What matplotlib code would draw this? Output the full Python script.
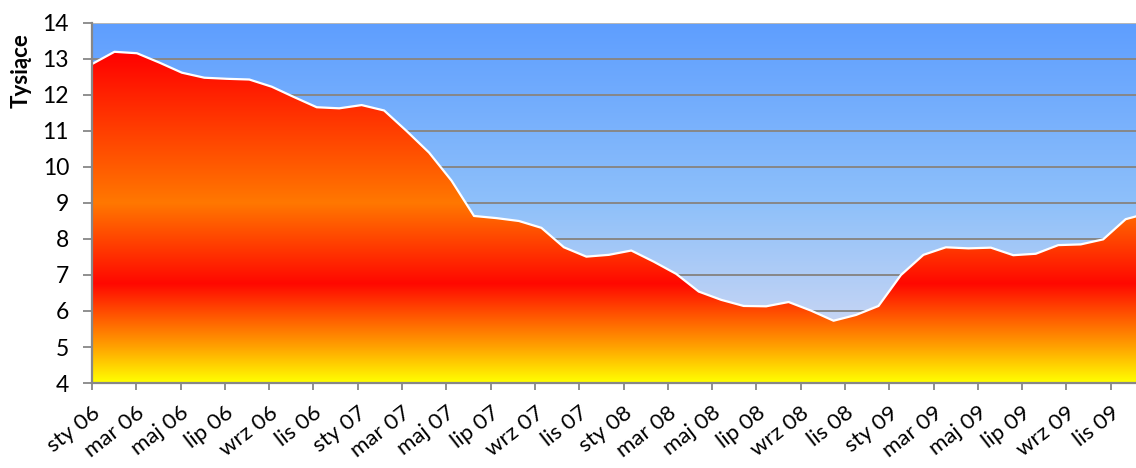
import numpy as np
import matplotlib
matplotlib.use("Agg")
import matplotlib.pyplot as plt
from matplotlib.colors import LinearSegmentedColormap

plt.rcParams['font.family'] = ['Lato', 'DejaVu Sans']

# ---- data (thousands), monthly Jan 2006 .. Dec 2009 ----
month_labels = ["sty 06", "mar 06", "maj 06", "lip 06", "wrz 06", "lis 06",
                "sty 07", "mar 07", "maj 07", "lip 07", "wrz 07", "lis 07",
                "sty 08", "mar 08", "maj 08", "lip 08", "wrz 08", "lis 08",
                "sty 09", "mar 09", "maj 09", "lip 09", "wrz 09", "lis 09"]
values = [12.86, 13.20, 13.16, 12.90, 12.62, 12.48, 12.45, 12.43, 12.23, 11.94,
          11.66, 11.63, 11.72, 11.57, 11.00, 10.40, 9.62, 8.64, 8.58, 8.50,
          8.31, 7.77, 7.51, 7.56, 7.68, 7.37, 7.03, 6.54, 6.31, 6.14,
          6.13, 6.25, 6.01, 5.73, 5.89, 6.14, 7.00, 7.56, 7.77, 7.74,
          7.76, 7.55, 7.59, 7.83, 7.85, 7.99, 8.55, 8.72]
y_ticks = [4, 5, 6, 7, 8, 9, 10, 11, 12, 13, 14]

x = np.arange(len(values))
vals = np.array(values)

W, H = 1136, 468
fig = plt.figure(figsize=(W / 100, H / 100), dpi=100)
ax = fig.add_axes([92 / W, 1 - 383 / H, 1 - 92 / W, (383 - 23) / H])

x_right = 46.46
ymin, ymax = 4, 14
ax.set_xlim(0, x_right)
ax.set_ylim(ymin, ymax)

# plot background gradient (blue -> pale lavender)
bg_cmap = LinearSegmentedColormap.from_list(
    "bg", [(0.0, (225/255, 223/255, 241/255)),
           (0.5, (142/255, 192/255, 250/255)),
           (1.0, (94/255, 158/255, 255/255))])
grad = np.linspace(0, 1, 256).reshape(-1, 1)
ax.imshow(grad, extent=[0, x_right, ymin, ymax], origin='lower', aspect='auto',
          cmap=bg_cmap, zorder=0, interpolation='bilinear')

# gridlines
for yv in y_ticks[1:-1]:
    ax.axhline(yv, color='#878787', lw=1.4, zorder=1)
ax.axhline(14, color='#b8b8b8', lw=1.4, zorder=1)

# area with "fire" gradient
top = 13.2
fire = LinearSegmentedColormap.from_list(
    "fire", [(0.0, (1.0, 1.0, 0.0)),
             ((5.0 - 4) / (top - 4), (1.0, 0.63, 0.0)),
             ((6.75 - 4) / (top - 4), (1.0, 0.03, 0.0)),
             ((9.0 - 4) / (top - 4), (1.0, 0.47, 0.0)),
             (1.0, (1.0, 0.0, 0.0))])
poly = ax.fill_between(x, vals, ymin, facecolor='none', edgecolor='none', zorder=2)
img = ax.imshow(grad, extent=[0, x_right, ymin, top], origin='lower', aspect='auto',
                cmap=fire, zorder=2, interpolation='bilinear')
img.set_clip_path(poly.get_paths()[0], transform=ax.transData)
ax.set_ylim(ymin, ymax)
ax.plot(x, vals, color='white', lw=1.6, zorder=3, solid_joinstyle='round')

# axes styling
for s in ['top', 'right']:
    ax.spines[s].set_visible(False)
for s in ['left', 'bottom']:
    ax.spines[s].set_color('#878787')
    ax.spines[s].set_linewidth(1.6)
    ax.spines[s].set_zorder(4)
ax.set_yticks(y_ticks)
ax.set_yticklabels([str(v) for v in y_ticks])
ax.tick_params(axis='y', direction='out', length=6.5, width=1.3, color='#878787',
               pad=10, labelsize=16.5, labelcolor='black')
ax.set_xticks([])

# category label axis
ax2 = ax.twiny()
ax2.set_xlim(0, 47.14)
ax2.xaxis.set_ticks_position('bottom')
ax2.xaxis.set_label_position('bottom')
for s in ax2.spines.values():
    s.set_visible(False)
ax2.set_xticks(np.arange(0, 48, 2))
ax2.set_xticklabels(month_labels, rotation=38, ha='right', va='top',
                    rotation_mode='anchor')
ax2.tick_params(axis='x', direction='out', length=5, width=1.3, color='#878787',
                pad=9, labelsize=16, labelcolor='black')

fig.text(21 / W, 1 - 71 / H, 'Tysiące', rotation=90, fontweight='bold',
         fontsize=16, ha='center', va='center')

fig.savefig('out.png', dpi=100)
